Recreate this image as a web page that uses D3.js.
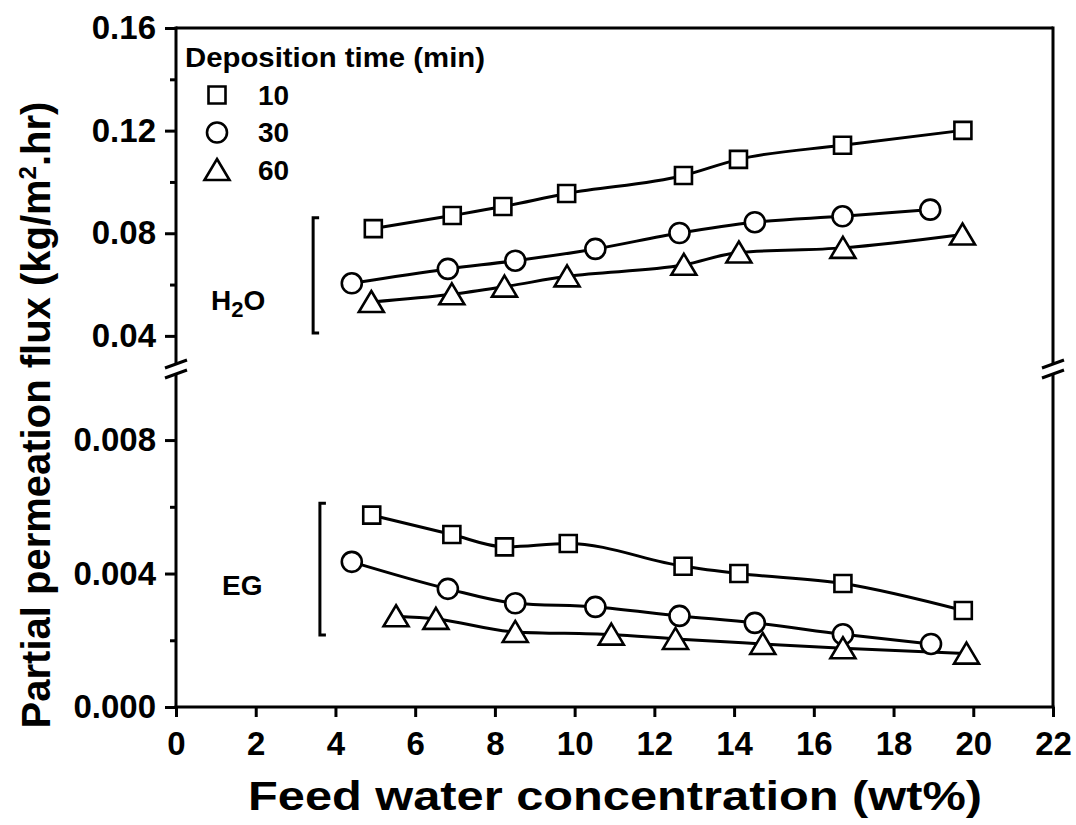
<!DOCTYPE html>
<html>
<head>
<meta charset="UTF-8">
<script src="https://d3js.org/d3.v7.min.js"></script>
<style>
  body { margin: 0; background: #fff; }
  svg { font-family: Arial, "Liberation Sans", sans-serif; font-weight: bold; }
  .tick line { stroke: #000; stroke-width: 3; }
  .tick text { font-size: 33px; fill: #000; font-family: Arial, "Liberation Sans", sans-serif; font-weight: bold; }
</style>
</head>
<body>
<svg id="chart" width="1076" height="825"></svg>
<script>
// deposition time series (min)
var seriesNames = ["10", "30", "60"];
var symbolTypes = ["square", "circle", "triangle"];

// H2O partial flux, kg/m2.hr
var h2oX10 = [4.95, 6.93, 8.2, 9.8, 12.73, 14.11, 16.72, 19.74];
var h2oY10 = [0.0818, 0.0869, 0.0904, 0.0955, 0.1025, 0.1088, 0.1143, 0.1201];
var h2oX30 = [4.41, 6.82, 8.51, 10.52, 12.63, 14.52, 16.72, 18.92];
var h2oY30 = [0.0605, 0.0661, 0.0693, 0.0739, 0.0801, 0.0843, 0.0866, 0.0892];
var h2oX60 = [4.9, 6.92, 8.24, 9.81, 12.74, 14.12, 16.73, 19.73];
var h2oY60 = [0.0532, 0.0562, 0.0592, 0.0632, 0.0677, 0.0725, 0.0743, 0.0795];

// EG partial flux
var egX10 = [4.91, 6.92, 8.24, 9.84, 12.72, 14.12, 16.73, 19.75];
var egY10 = [0.00575, 0.00517, 0.0048, 0.0049, 0.00422, 0.0040, 0.0037, 0.00289];
var egX30 = [4.41, 6.82, 8.51, 10.52, 12.63, 14.52, 16.73, 18.94];
var egY30 = [0.00435, 0.00354, 0.00311, 0.0030, 0.00273, 0.00252, 0.00218, 0.00189];
var egX60 = [5.52, 6.52, 8.51, 10.92, 12.53, 14.72, 16.73, 19.83];
var egY60 = [0.00272, 0.00264, 0.00225, 0.00217, 0.00204, 0.00189, 0.00176, 0.00160];

var xTicks = [0, 2, 4, 6, 8, 10, 12, 14, 16, 18, 20, 22];
var upperTicks = [0.04, 0.08, 0.12, 0.16];
var upperMinor = [0.06, 0.10, 0.14];
var lowerTicks = [0.000, 0.004, 0.008];
var lowerMinor = [0.002, 0.006];

// bracket annotations [x, yTop, yBottom]
var h2oBracket = [3.44, 0.086, 0.0411];
var egBracket = [3.61, 0.00611, 0.00216];

var mLeft = 176, mRight = 1053, mTop = 28, mBottom = 707;
var breakTop = 364, breakBottom = 374;

var svg = d3.select("#chart");

var x = d3.scaleLinear().domain([0, 22]).range([mLeft, mRight]);
var yUp = d3.scaleLinear().domain([0.0267, 0.16]).range([370, mTop]);
var yLow = d3.scaleLinear().domain([0, 0.0101]).range([mBottom, 370]);

// axes
svg.append("g").attr("transform", "translate(0," + mBottom + ")")
  .call(d3.axisBottom(x).tickValues(xTicks).tickSize(10).tickPadding(15).tickFormat(d3.format("d")))
  .call(function(g){ g.select(".domain").remove(); });

svg.append("g").attr("transform", "translate(" + mLeft + ",0)")
  .call(d3.axisLeft(yUp).tickValues(upperTicks).tickSize(11).tickPadding(9).tickFormat(d3.format(".2f")))
  .call(function(g){ g.select(".domain").remove(); });
svg.append("g").attr("transform", "translate(" + mLeft + ",0)")
  .call(d3.axisLeft(yUp).tickValues(upperMinor).tickSize(6).tickFormat(""))
  .call(function(g){ g.select(".domain").remove(); });

svg.append("g").attr("transform", "translate(" + mLeft + ",0)")
  .call(d3.axisLeft(yLow).tickValues(lowerTicks).tickSize(11).tickPadding(9).tickFormat(d3.format(".3f")))
  .call(function(g){ g.select(".domain").remove(); });
svg.append("g").attr("transform", "translate(" + mLeft + ",0)")
  .call(d3.axisLeft(yLow).tickValues(lowerMinor).tickSize(6).tickFormat(""))
  .call(function(g){ g.select(".domain").remove(); });

// frame with break
var frame = svg.append("g").attr("stroke", "#000").attr("stroke-width", 3).attr("fill", "none");
frame.append("line").attr("x1", mLeft).attr("x2", mRight).attr("y1", mTop).attr("y2", mTop);
frame.append("line").attr("x1", mLeft - 1.5).attr("x2", mRight + 1.5).attr("y1", mBottom).attr("y2", mBottom);
[mLeft, mRight].forEach(function(xx){
  frame.append("line").attr("x1", xx).attr("x2", xx).attr("y1", mTop - 1.5).attr("y2", breakTop);
  frame.append("line").attr("x1", xx).attr("x2", xx).attr("y1", breakBottom).attr("y2", mBottom);
  [breakTop, breakBottom].forEach(function(yy){
    frame.append("line").attr("x1", xx - 11).attr("x2", xx + 11)
      .attr("y1", yy + 4).attr("y2", yy - 4);
  });
});

// symbols
function symPath(type) {
  if (type === "square") return "M-8.5,-8.5H8.5V8.5H-8.5Z";
  if (type === "circle") return "M10,0A10,10 0 1,1 -10,0A10,10 0 1,1 10,0Z";
  return "M0,-11L12.5,10L-12.5,10Z";
}

var line = function(ys) {
  return d3.line().x(function(d){ return x(d[0]); }).y(function(d){ return ys(d[1]); })
    .curve(d3.curveMonotoneX);
};

var upperSets = [d3.zip(h2oX10, h2oY10), d3.zip(h2oX30, h2oY30), d3.zip(h2oX60, h2oY60)];
var lowerSets = [d3.zip(egX10, egY10), d3.zip(egX30, egY30), d3.zip(egX60, egY60)];

function drawSets(sets, ys) {
  sets.forEach(function(pts) {
    svg.append("path").attr("d", line(ys)(pts))
      .attr("fill", "none").attr("stroke", "#000").attr("stroke-width", 3);
  });
  sets.forEach(function(pts, i) {
    svg.append("g").selectAll("path").data(pts).join("path")
      .attr("transform", function(d){ return "translate(" + x(d[0]) + "," + ys(d[1]) + ")"; })
      .attr("d", symPath(symbolTypes[i]))
      .attr("fill", "#fff").attr("stroke", "#000").attr("stroke-width", 2.6);
  });
}
drawSets(upperSets, yUp);
drawSets(lowerSets, yLow);

// brackets
function bracket(b, ys) {
  var bx = x(b[0]), y1 = ys(b[1]), y2 = ys(b[2]);
  svg.append("path").attr("d", "M" + (bx + 6) + "," + y1 + "H" + bx + "V" + y2 + "H" + (bx + 6))
    .attr("fill", "none").attr("stroke", "#000").attr("stroke-width", 3);
}
bracket(h2oBracket, yUp);
bracket(egBracket, yLow);

var h2o = svg.append("text").attr("x", 211).attr("y", 310).attr("font-size", 28);
h2o.append("tspan").text("H");
h2o.append("tspan").attr("dy", 7).attr("font-size", 22).text("2");
h2o.append("tspan").attr("dy", -7).text("O");

svg.append("text").attr("x", 222).attr("y", 595).attr("font-size", 28).text("EG");

// legend
svg.append("text").attr("x", 185).attr("y", 67).attr("font-size", 27)
  .attr("textLength", 300).attr("lengthAdjust", "spacingAndGlyphs")
  .text("Deposition time (min)");
var lg = svg.append("g").selectAll("g").data(seriesNames).join("g")
  .attr("transform", function(d, i){ return "translate(217," + (95 + i * 37.5) + ")"; });
lg.append("path").attr("d", function(d, i){ return symPath(symbolTypes[i]); })
  .attr("fill", "#fff").attr("stroke", "#000").attr("stroke-width", 2.6);
lg.append("text").attr("x", 41).attr("y", 9.5).attr("font-size", 28).text(function(d){ return d; });

// axis titles
svg.append("text").attr("x", 615).attr("y", 810).attr("text-anchor", "middle")
  .attr("font-size", 40).attr("textLength", 734).attr("lengthAdjust", "spacingAndGlyphs")
  .text("Feed water concentration (wt%)");

var yt = svg.append("text").attr("transform", "translate(50,415) rotate(-90)")
  .attr("text-anchor", "middle").attr("font-size", 40);
yt.append("tspan").text("Partial permeation flux (kg/m");
yt.append("tspan").attr("dy", -14).attr("font-size", 24).text("2");
yt.append("tspan").attr("dy", 14).text(".hr)");
</script>
</body>
</html>
